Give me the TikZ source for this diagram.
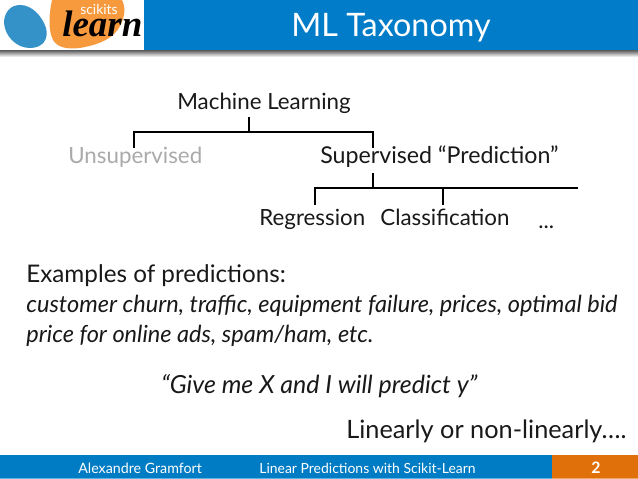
\documentclass[tikz,border=0pt]{standalone}
\usepackage{fontspec}
\setmainfont{Lato}
\newfontfamily\logofont{Liberation Serif}
\definecolor{barblue}{RGB}{0,124,200}
\definecolor{footblue}{RGB}{0,124,196}
\definecolor{footlight}{RGB}{90,180,230}
\definecolor{footorange}{RGB}{224,112,10}
\definecolor{orangelight}{RGB}{235,170,100}
\definecolor{logoblue}{RGB}{52,146,200}
\definecolor{logoorange}{RGB}{247,154,62}
\definecolor{fadedgray}{RGB}{170,170,170}
\begin{document}
\begin{tikzpicture}[
    x=0.02cm, y=-0.02cm,
    lbl/.style={anchor=base west, inner sep=0pt, text=black!90, font=\fontsize{12.7}{16}\selectfont},
    big/.style={lbl, font=\fontsize{14.2}{16}\selectfont},
    ital/.style={lbl, font=\fontsize{13.4}{16}\selectfont\itshape},
    foot/.style={anchor=base west, inner sep=0pt, text=white, font=\fontsize{8.1}{10}\selectfont},
    tree/.style={draw=black, line width=1.1pt}
]
\useasboundingbox (0,0) rectangle (638,479);
\fill[white] (0,0) rectangle (638,479);

% Kopfzeile
\fill[top color=black!65, bottom color=white] (0,50) rectangle (638,57);
\fill[barblue] (144,0) rectangle (638,50);
\fill[white] (0,0) rectangle (144,50);

% Logo
\fill[logoorange] (52,0) .. controls (49,14) and (48,30) .. (53,40) .. controls (58,49) and (72,50) .. (85,47) .. controls (100,44) and (114,38) .. (120,26) .. controls (126,15) and (125,6) .. (122,0) -- cycle;
\fill[logoblue] (20,5) .. controls (32,5) and (42,16) .. (46,28) .. controls (49,40) and (42,48) .. (30,48) .. controls (16,48) and (5,36) .. (4,23) .. controls (4,13) and (10,5) .. (20,5) -- cycle;
\node[anchor=base west, inner sep=0pt, text=white, font=\fontsize{7.9}{8}\selectfont] (logotop) at (80,15) {scikits};
\node[anchor=base west, inner sep=0pt, text=black, font=\logofont\fontsize{21}{21}\selectfont\bfseries\itshape] (logolearn) at (62,37) {learn};

% Titel
\node[anchor=base west, inner sep=0pt, text=white, font=\fontsize{18.4}{20}\selectfont] (title) at (291,37) {ML Taxonomy};

% Baum
\node[lbl] (ml) at (177,110) {Machine Learning};
\node[lbl, text=fadedgray] (unsup) at (68,164) {Unsupervised};
\node[lbl, font=\fontsize{13.2}{16}\selectfont] (sup) at (320,164) {Supervised ``Prediction''};
\node[lbl] (reg) at (259,226) {Regression};
\node[lbl] (clf) at (380,226) {Classification};
\node[lbl] (more) at (538,229) {...};

\coordinate (mlTop) at (249,117);
\coordinate (mlJoin) at (249,132);
\coordinate (unsupTop) at (134,148);
\coordinate (supTop) at (373,148);
\coordinate (supOut) at (373,173);
\coordinate (supJoin) at (373,188);
\coordinate (regTop) at (315,205);
\coordinate (clfTop) at (443,205);
\coordinate (clfJoin) at (443,188);
\coordinate (moreEnd) at (578,188);

\draw[tree] (mlTop) -- (mlJoin);
\draw[tree] (unsupTop) |- (mlJoin) -| (supTop);
\draw[tree] (supOut) -- (supJoin);
\draw[tree] (regTop) |- (moreEnd);
\draw[tree] (clfTop) -- (clfJoin);

% Text
\node[big, font=\fontsize{13.8}{16}\selectfont] (examples) at (26,282) {Examples of predictions:};
\node[ital] (line1) at (26,312) {customer churn, traffic, equipment failure, prices, optimal bid};
\node[ital] (line2) at (26,342) {price for online ads, spam/ham, etc.};
\node[ital, font=\fontsize{14.2}{16}\selectfont\itshape] (quote) at (161,393) {``Give me X and I will predict y''};
\node[big, font=\fontsize{14.4}{16}\selectfont] (linear) at (346,438) {Linearly or non-linearly\dots.};

% Fusszeile
\fill[footblue] (0,455) rectangle (552,478);
\fill[footorange] (552,455) rectangle (638,478);
\fill[footlight] (0,478) rectangle (552,479);
\fill[orangelight] (552,478) rectangle (638,479);
\node[foot] (author) at (78,473) {Alexandre Gramfort};
\node[foot, font=\fontsize{7.95}{10}\selectfont] (talk) at (259,473) {Linear Predictions with Scikit-Learn};
\node[foot, font=\fontsize{9}{10}\selectfont\bfseries] (page) at (591,473) {2};
\end{tikzpicture}
\end{document}
